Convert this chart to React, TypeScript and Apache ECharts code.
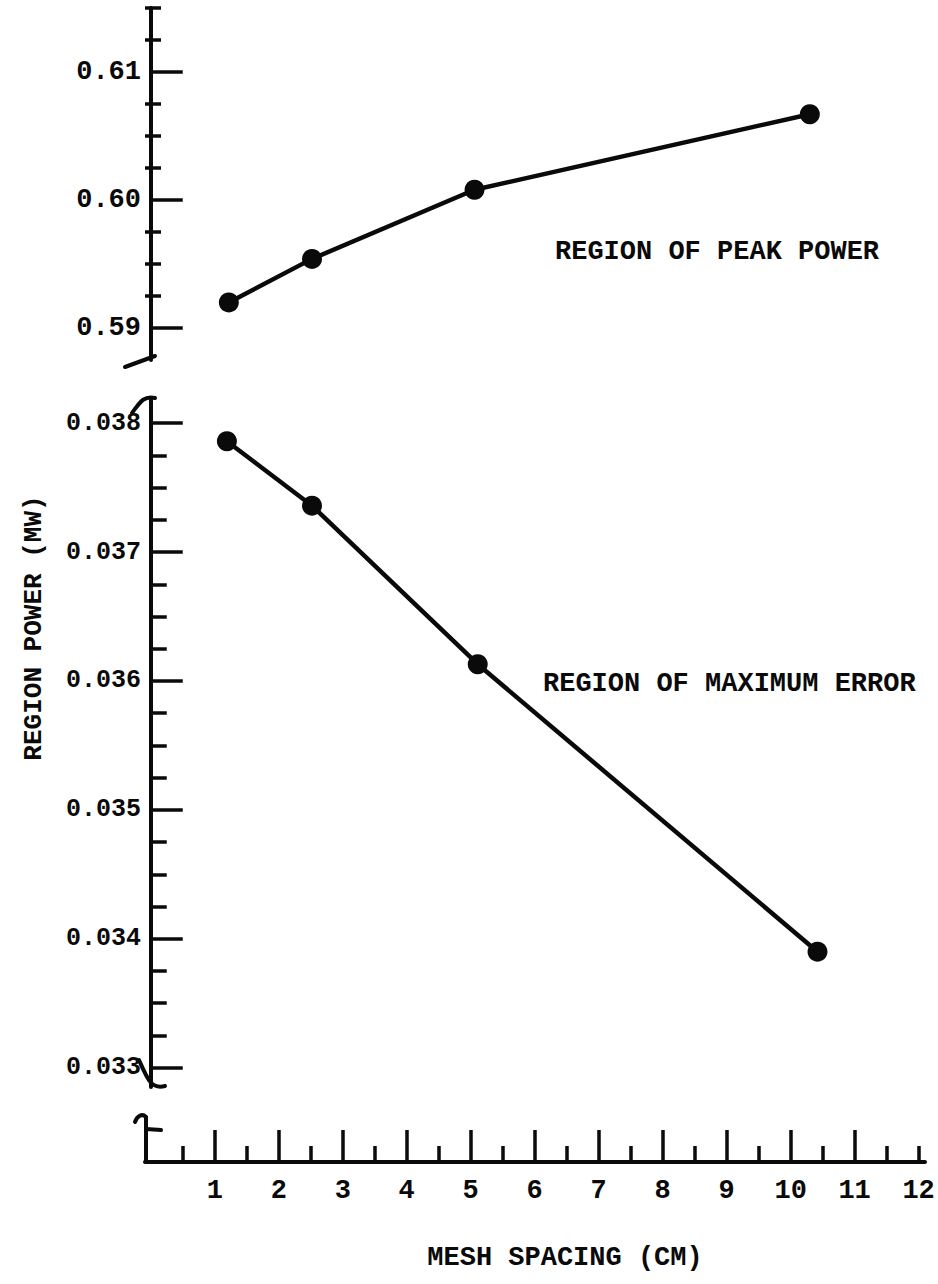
import React, { useEffect, useRef } from "react";
import * as echarts from "echarts";

// ---- data ----
const peakSpacing = [1.22, 2.52, 5.06, 10.3];
const peakPower = [0.592, 0.5954, 0.6008, 0.6067];
const errorSpacing = [1.19, 2.52, 5.11, 10.42];
const errorPower = [0.03786, 0.03736, 0.03613, 0.0339];

// ---- tick values / labels ----
const topMajorTicks = [0.59, 0.6, 0.61];
const topMinorTicks = [0.5925, 0.595, 0.5975, 0.6025, 0.605, 0.6075, 0.6125, 0.615];
const bottomMajorTicks = [0.033, 0.034, 0.035, 0.036, 0.037, 0.038];
const bottomMinorTicks = [
  0.03325, 0.0335, 0.03375, 0.03425, 0.0345, 0.03475, 0.03525, 0.0355, 0.03575,
  0.03625, 0.0365, 0.03675, 0.03725, 0.0375, 0.03775,
];
const xMajorTicks = [1, 2, 3, 4, 5, 6, 7, 8, 9, 10, 11];
const xMinorTicks = [0.5, 1.5, 2.5, 3.5, 4.5, 5.5, 6.5, 7.5, 8.5, 9.5, 10.5, 11.5, 12];
const xTickLabels = [1, 2, 3, 4, 5, 6, 7, 8, 9, 10, 11, 12];

const xAxisTitle = "MESH SPACING (CM)";
const yAxisTitle = "REGION POWER (MW)";
const peakNote = "REGION OF PEAK POWER";
const errorNote = "REGION OF MAXIMUM ERROR";

// ---- layout ----
const W = 938;
const H = 1284;
const FONT = '"Liberation Mono", "DejaVu Sans Mono", monospace';
const WEIGHT = "bold";
const INK = "#0a0a0a";
const GRID_LEFT = 145;
const GRID_RIGHT = 13;
const TOP_GRID = { top: 8, height: 352 };
const BOT_GRID = { top: 400, height: 687 };
const X_AXIS_Y = 1162;

export default function App() {
  const ref = useRef<HTMLDivElement>(null);

  useEffect(() => {
    if (!ref.current) return;
    const chart = echarts.init(ref.current, null, { renderer: "svg" });

    const xRange = { min: -0.09, max: 12.1 };
    const botBottom = BOT_GRID.top + BOT_GRID.height;
    const ax = GRID_LEFT;

    const yMajor = (gridIndex: number, min: number, max: number, ticks: number[], digits: number, fs: number) => ({
      type: "value",
      gridIndex,
      position: "left",
      min,
      max,
      axisLine: { show: true, lineStyle: { color: INK, width: 4, cap: "round" } },
      axisTick: {
        show: true,
        inside: true,
        length: 32,
        customValues: ticks,
        lineStyle: { color: INK, width: 3.5 },
      },
      axisLabel: {
        show: true,
        customValues: ticks,
        margin: 4,
        padding: [12, 0, 0, 0],
        color: INK,
        fontFamily: FONT,
        fontWeight: WEIGHT,
        fontSize: fs,
        formatter: (v: number) => v.toFixed(digits),
      },
      splitLine: { show: false },
    });
    const yMinor = (gridIndex: number, min: number, max: number, ticks: number[]) => ({
      type: "value",
      gridIndex,
      position: "left",
      min,
      max,
      axisLine: { show: false },
      axisTick: {
        show: true,
        inside: true,
        length: 16,
        customValues: ticks,
        lineStyle: { color: INK, width: 3.5 },
      },
      axisLabel: { show: false },
      splitLine: { show: false },
    });

    const textStyle = (text: string, fs: number, align: string) => ({
      text,
      fill: INK,
      fontFamily: FONT,
      fontWeight: WEIGHT,
      fontSize: fs,
      align,
      verticalAlign: "middle",
    });

    const option = {
      animation: false,
      backgroundColor: "#ffffff",
      grid: [
        { left: GRID_LEFT, right: GRID_RIGHT, top: TOP_GRID.top, height: TOP_GRID.height },
        { left: GRID_LEFT, right: GRID_RIGHT, top: BOT_GRID.top, height: BOT_GRID.height },
      ],
      xAxis: [
        { type: "value", gridIndex: 0, ...xRange, show: false, splitLine: { show: false } },
        {
          type: "value",
          gridIndex: 1,
          ...xRange,
          position: "bottom",
          offset: X_AXIS_Y - botBottom,
          axisLine: { show: true, lineStyle: { color: INK, width: 4 } },
          axisTick: {
            show: true,
            inside: true,
            length: 32,
            customValues: xMajorTicks,
            lineStyle: { color: INK, width: 3.5 },
          },
          axisLabel: {
            show: true,
            customValues: xTickLabels,
            margin: 15,
            color: INK,
            fontFamily: FONT,
            fontWeight: WEIGHT,
            fontSize: 27,
            formatter: (v: number) => String(Math.round(v)),
          },
          splitLine: { show: false },
        },
        {
          type: "value",
          gridIndex: 1,
          ...xRange,
          position: "bottom",
          offset: X_AXIS_Y - botBottom,
          axisLine: { show: false },
          axisTick: {
            show: true,
            inside: true,
            length: 16,
            customValues: xMinorTicks,
            lineStyle: { color: INK, width: 3.5 },
          },
          axisLabel: { show: false },
          splitLine: { show: false },
        },
      ],
      yAxis: [
        yMajor(0, 0.5875, 0.615, topMajorTicks, 2, 27),
        yMinor(0, 0.5875, 0.615, topMinorTicks),
        yMajor(1, 0.03285, 0.03818, bottomMajorTicks, 3, 25),
        yMinor(1, 0.03285, 0.03818, bottomMinorTicks),
      ],
      series: [
        {
          type: "line",
          name: peakNote,
          xAxisIndex: 0,
          yAxisIndex: 0,
          data: peakSpacing.map((x, i) => [x, peakPower[i]]),
          symbol: "circle",
          symbolSize: 20,
          itemStyle: { color: INK },
          lineStyle: { color: INK, width: 4.5 },
          z: 5,
        },
        {
          type: "line",
          name: errorNote,
          xAxisIndex: 1,
          yAxisIndex: 2,
          data: errorSpacing.map((x, i) => [x, errorPower[i]]),
          symbol: "circle",
          symbolSize: 20,
          itemStyle: { color: INK },
          lineStyle: { color: INK, width: 4.5 },
          z: 5,
        },
      ],
      graphic: [
        { type: "text", x: 555, y: 252, style: textStyle(peakNote, 27, "left") },
        { type: "text", x: 543, y: 684, style: textStyle(errorNote, 27, "left") },
        { type: "text", x: 565, y: 1258, style: textStyle(xAxisTitle, 27, "center") },
        {
          type: "text",
          x: 34,
          y: 628,
          rotation: Math.PI / 2,
          style: textStyle(yAxisTitle, 26, "center"),
        },
        // axis break marks
        {
          type: "line",
          shape: { x1: ax - 20, y1: 367, x2: ax + 10, y2: 356 },
          style: { stroke: INK, lineWidth: 4, lineCap: "round" },
        },
        {
          type: "bezierCurve",
          shape: { x1: ax + 10, y1: 398, cpx1: ax - 2, cpy1: 395, cpx2: ax - 6, cpy2: 404, x2: ax - 13, y2: 413 },
          style: { stroke: INK, lineWidth: 4, fill: "none", lineCap: "round" },
        },
        {
          type: "bezierCurve",
          shape: { x1: ax - 6, y1: 1060, cpx1: ax + 2, cpy1: 1078, cpx2: ax + 6, cpy2: 1090, x2: ax + 20, y2: 1086 },
          style: { stroke: INK, lineWidth: 4, fill: "none", lineCap: "round" },
        },
        {
          type: "line",
          shape: { x1: ax + 1, y1: 1116, x2: ax + 1, y2: X_AXIS_Y },
          style: { stroke: INK, lineWidth: 4 },
        },
        {
          type: "bezierCurve",
          shape: { x1: ax + 1, y1: 1117, cpx1: ax - 3, cpy1: 1113, cpx2: ax - 8, cpy2: 1116, x2: ax - 10, y2: 1122 },
          style: { stroke: INK, lineWidth: 4, fill: "none", lineCap: "round" },
        },
        {
          type: "line",
          shape: { x1: ax + 1, y1: 1129, x2: ax + 16, y2: 1130 },
          style: { stroke: INK, lineWidth: 4, lineCap: "round" },
        },
      ],
    };

    chart.setOption(option as any);
    return () => chart.dispose();
  }, []);

  return (
    <div
      ref={ref}
      style={{ position: "absolute", left: 0, top: 0, width: W, height: H, background: "#fff" }}
    />
  );
}
